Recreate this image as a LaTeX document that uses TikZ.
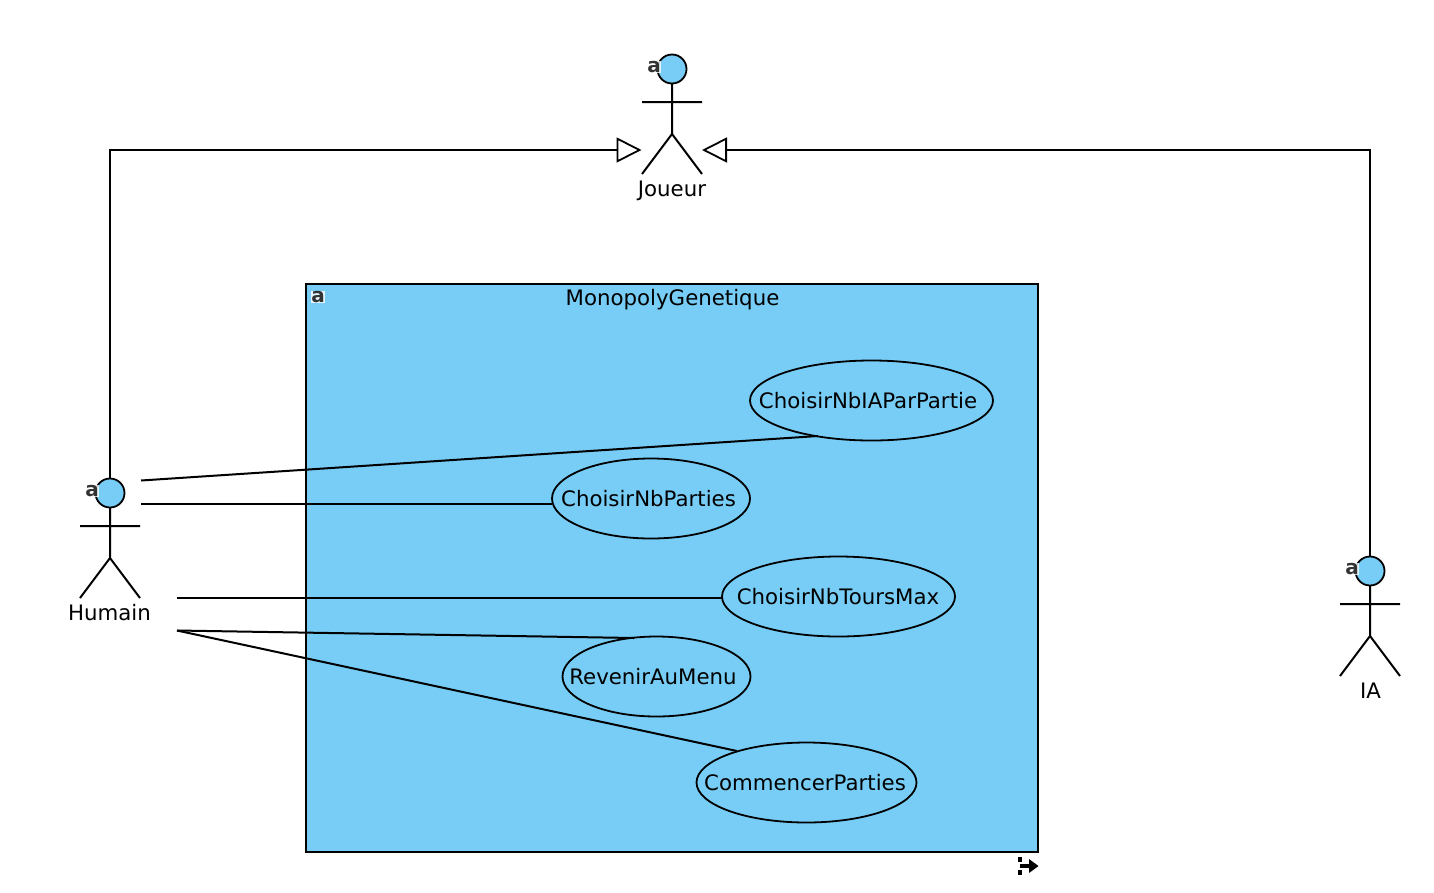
\documentclass[tikz,border=0pt]{standalone}
\usepackage{fontspec}
\setmainfont{DejaVu Sans}
\usetikzlibrary{shapes.geometric,arrows.meta}
\definecolor{umlblue}{HTML}{77CDF6}
\tikzset{
  x=1pt,y=-1pt,
  ln/.style={line width=2pt,black},
  usecase/.style={ellipse,draw=black,line width=1.8pt,inner sep=0pt,outer sep=0pt},
  txt/.style={font=\fontsize{21.3}{24}\selectfont,inner sep=0pt,text=black},
  head/.style={circle,draw=black,fill=umlblue,line width=1.8pt,minimum size=29pt,inner sep=0pt,outer sep=0pt},
  badge/.style={font=\bfseries\fontsize{20}{24}\selectfont,inner xsep=.5pt,inner ysep=0pt,text height=11pt,text depth=1pt,text=black!80,fill=white,fill opacity=.8,text opacity=1},
  gen/.style={line width=2pt,-{Triangle[open,length=25pt,width=25pt,line width=1.8pt,fill=white]}},
  actor/.pic={
    \draw[ln] (0,15) -- (0,65) (-30,33) -- (30,33) (-30,105) -- (0,65) -- (30,105);
  }
}
\begin{document}
\begin{tikzpicture}
\useasboundingbox (0,0) rectangle (1434,892);
% system box
\node[draw=black,fill=umlblue,line width=2pt,minimum width=732pt,minimum height=568pt,inner sep=0pt,outer sep=0pt] (sys) at (672,568) {};
\node[txt] (systitle) at (672.5,300) {MonopolyGenetique};
\node[badge] (sysa) at (318,297) {a};
% use cases
\node[usecase,minimum width=243pt,minimum height=80pt] (uc1) at (871.5,400.5) {};
\node[txt] (uc1t) at (868,401) {ChoisirNbIAParPartie};
\node[usecase,minimum width=198pt,minimum height=80pt] (uc2) at (651,498.5) {};
\node[txt] (uc2t) at (648.5,499) {ChoisirNbParties};
\node[usecase,minimum width=233pt,minimum height=80pt] (uc3) at (838.5,596.5) {};
\node[txt] (uc3t) at (838,597) {ChoisirNbToursMax};
\node[usecase,minimum width=188pt,minimum height=80pt] (uc4) at (656.5,676.5) {};
\node[txt] (uc4t) at (653,677) {RevenirAuMenu};
\node[usecase,minimum width=220pt,minimum height=80pt] (uc5) at (806.5,782.5) {};
\node[txt] (uc5t) at (805,783) {CommencerParties};
% actors
\pic at (672,69) {actor};
\node[head] (joueur) at (672,69) {};
\node[badge] (joueura) at (654,67) {a};
\node[txt] (joueurt) at (672,190.5) {Joueur};
\pic at (110,493) {actor};
\node[head] (humain) at (110,493) {};
\node[badge] (humaina) at (92,491) {a};
\node[txt] (humaint) at (109.5,613) {Humain};
\pic at (1370,571) {actor};
\node[head] (ia) at (1370,571) {};
\node[badge] (iaa) at (1352,569) {a};
\node[txt] (iat) at (1370.5,691) {IA};
% connector ends
\coordinate (jl) at (641.5,150);
\coordinate (jr) at (702,150);
\coordinate (h1) at (141,480.5);
\coordinate (h2) at (141,504);
\coordinate (h3) at (177,598);
\coordinate (h4) at (177,630.5);
\coordinate (e1) at (818,436);
\coordinate (e2) at (552,504);
\coordinate (e3) at (722,598);
\coordinate (e4) at (634,638);
\coordinate (e5) at (737,751);
% connectors
\draw[gen] (humain.north) |- (jl);
\draw[gen] (ia.north) |- (jr);
\draw[ln] (h1) -- (e1);
\draw[ln] (h2) -- (e2);
\draw[ln] (h3) -- (e3);
\draw[ln] (h4) -- (e4);
\draw[ln] (h4) -- (e5);
% corner glyph
\draw[line width=3.5pt,black] (1020,857) -- (1020,862) (1020,870) -- (1020,875);
\draw[line width=3.5pt,black] (1020,866) -- (1030,866);
\fill[black] (1029,859) -- (1038.5,866) -- (1029,873) -- cycle;
\end{tikzpicture}
\end{document}
